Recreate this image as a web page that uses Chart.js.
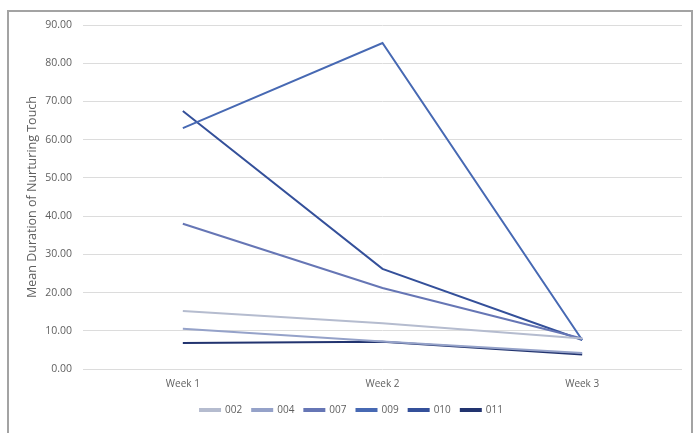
<!DOCTYPE html>
<html>
<head>
<meta charset="utf-8">
<script src="https://cdn.jsdelivr.net/npm/chart.js@4/dist/chart.umd.min.js"></script>
<style>
  html, body { margin: 0; padding: 0; background: #ffffff; }
  body { width: 697px; height: 433px; position: relative; overflow: hidden; }
  #frame {
    position: absolute; left: 7px; top: 10px; width: 686px; height: 440px;
    box-sizing: border-box; border: 2px solid #a3a3a3; border-bottom: none;
    background: #ffffff;
  }
  #wrap { position: absolute; left: 0; top: 0; width: 682px; height: 421px; }
</style>
</head>
<body>
<div id="frame"><div id="wrap"><canvas id="c" width="682" height="421"></canvas></div></div>
<script>
// Categories and per-participant mean durations
const weeks = ['Week 1', 'Week 2', 'Week 3'];
const participants = ['002', '004', '007', '009', '010', '011'];
const p002 = [15.2, 12.0, 8.0];
const p004 = [10.5, 7.2, 4.2];
const p007 = [38.0, 21.2, 8.0];
const p009 = [63.0, 85.3, 7.6];
const p010 = [67.5, 26.2, 7.6];
const p011 = [6.8, 7.1, 3.8];
const yTicks = [0, 10, 20, 30, 40, 50, 60, 70, 80, 90];

const seriesValues = [p002, p004, p007, p009, p010, p011];
const seriesColors = ['#b5bccf', '#95a2c9', '#6676b5', '#4769b3', '#34509a', '#22346f'];

const textColor = '#5f5f5f';
const fontFamily = '"Open Sans", "Liberation Sans", sans-serif';

const datasets = participants.map((name, i) => ({
  label: name,
  data: seriesValues[i],
  borderColor: seriesColors[i],
  backgroundColor: seriesColors[i],
  borderWidth: 2,
  pointRadius: 0,
  tension: 0,
  fill: false
}));

new Chart(document.getElementById('c'), {
  type: 'line',
  data: { labels: weeks, datasets },
  options: {
    responsive: false,
    animation: false,
    events: [],
    layout: { padding: { left: 12, right: 9, top: 13, bottom: 8 } },
    plugins: {
      tooltip: { enabled: false },
      legend: {
        position: 'bottom',
        labels: {
          boxWidth: 20,
          boxHeight: 2,
          padding: 10,
          color: textColor,
          font: { family: fontFamily, size: 10 }
        }
      }
    },
    scales: {
      x: {
        offset: true,
        grid: { display: false, drawTicks: false },
        border: { display: false },
        ticks: { color: textColor, padding: 9, font: { family: fontFamily, size: 10 } },
        afterFit: (s) => { s.height = 26; }
      },
      y: {
        min: 0,
        max: 90,
        afterBuildTicks: (s) => { s.ticks = yTicks.map(v => ({ value: v })); },
        grid: { color: '#dcdcdc', lineWidth: 1, drawTicks: false },
        border: { display: false },
        ticks: {
          color: textColor,
          padding: 11,
          font: { family: fontFamily, size: 10.5 },
          callback: (v) => Number(v).toFixed(2)
        },
        title: {
          display: true,
          text: 'Mean Duration of Nurturing Touch',
          color: textColor,
          font: { family: fontFamily, size: 12.5 },
          padding: { top: 4, bottom: 4 }
        },
        afterFit: (s) => { s.width = 62; s.paddingTop = 0; s.paddingBottom = 0; }
      }
    }
  }
});
</script>
</body>
</html>
